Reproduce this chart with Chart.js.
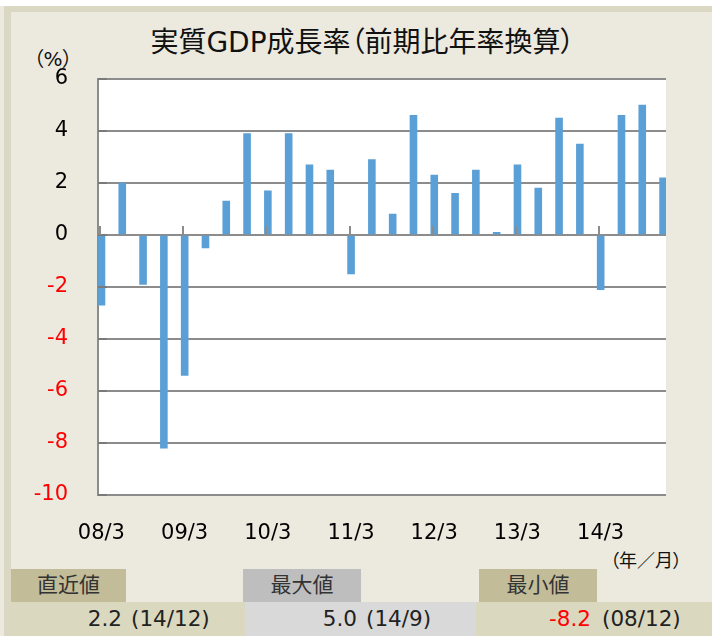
<!DOCTYPE html>
<html lang="ja">
<head>
<meta charset="utf-8">
<title>実質GDP成長率（前期比年率換算）</title>
<script src="https://cdn.jsdelivr.net/npm/chart.js@4.4.1/dist/chart.umd.min.js"></script>
<style>
  html, body { margin: 0; padding: 0; }
  body {
    width: 712px; height: 636px; position: relative; overflow: hidden;
    background: #ECE9DE;
    font-family: "DejaVu Sans", "Noto Sans CJK JP", sans-serif;
    font-feature-settings: "palt";
  }
  .abs { position: absolute; }
  #topWhite { left: 0; top: 0; width: 712px; height: 6px; background: #fff; }
  #topBand { left: 4px; top: 6px; width: 708px; height: 6px; background: #DAD7C3; }
  #leftBand { left: 4px; top: 6px; width: 7px; height: 630px; background: #DAD7C3; }
  #title { left: 0; width: 725px; top: 28px; line-height: 30px; text-align: center;
           font-size: 28px; color: #111; white-space: nowrap; }
  #unitY { left: 27px; top: 48px; width: 52px; text-align: center; font-size: 20px; line-height: 22px; color: #111; }
  #unitX { left: 604px; top: 550px; width: 84px; text-align: center; font-size: 18px; line-height: 22px; color: #111; }
  #clip { left: 0; top: 0; width: 666px; height: 560px; overflow: hidden; }
  #box { position: relative; width: 696px; height: 560px; }
  .head { top: 569px; height: 33px; line-height: 33px; text-align: center; font-size: 21px; color: #333; }
  .cell { top: 602px; height: 34px; }
  .num { top: 602px; line-height: 34px; font-size: 21.5px; color: #222; white-space: nowrap; }
  .khaki { background: #C2BC98; }
  .grey { background: #BEBEBE; }
  .khakiLight { background: #DBD8C0; }
  .greyLight { background: #D9D9D9; }
</style>
</head>
<body>
<div id="topWhite" class="abs"></div>
<div id="topBand" class="abs"></div>
<div id="leftBand" class="abs"></div>

<div id="title" class="abs">実質GDP成長率（前期比年率換算）</div>
<div id="unitY" class="abs">（%）</div>
<div id="unitX" class="abs">（年／月）</div>

<div id="clip" class="abs"><div id="box"><canvas id="gdp"></canvas></div></div>

<div class="abs head khaki" style="left:11px;width:115px;">直近値</div>
<div class="abs head grey" style="left:243px;width:118px;">最大値</div>
<div class="abs head khaki" style="left:479px;width:118px;">最小値</div>

<div class="abs cell khakiLight" style="left:11px;width:234px;"></div>
<div class="abs cell greyLight" style="left:245px;width:231px;"></div>
<div class="abs cell khakiLight" style="left:476px;width:236px;"></div>

<div id="latestVal" class="abs num" style="right:590px;"></div>
<div id="latestQ" class="abs num" style="left:131px;"></div>
<div id="maxVal" class="abs num" style="right:355px;"></div>
<div id="maxQ" class="abs num" style="left:366px;"></div>
<div id="minVal" class="abs num" style="right:121px;color:#FF0000;"></div>
<div id="minQ" class="abs num" style="left:602px;"></div>

<script>
// Quarter labels (year/month of quarter end), 2008 Q1 - 2014 Q4
const quarters = [
  '08/3', '08/6', '08/9', '08/12',
  '09/3', '09/6', '09/9', '09/12',
  '10/3', '10/6', '10/9', '10/12',
  '11/3', '11/6', '11/9', '11/12',
  '12/3', '12/6', '12/9', '12/12',
  '13/3', '13/6', '13/9', '13/12',
  '14/3', '14/6', '14/9', '14/12'
];

// Real GDP growth, q/q annualised (%)
const gdpGrowth = [
  -2.7, 2.0, -1.9, -8.2,
  -5.4, -0.5, 1.3, 3.9,
  1.7, 3.9, 2.7, 2.5,
  -1.5, 2.9, 0.8, 4.6,
  2.3, 1.6, 2.5, 0.1,
  2.7, 1.8, 4.5, 3.5,
  -2.1, 4.6, 5.0, 2.2
];

// Value axis ticks (%)
const yTicks = [6, 4, 2, 0, -2, -4, -6, -8, -10];

// Summary row: latest, maximum and minimum of the series
const fmt = v => v.toFixed(1);
const latestIdx = gdpGrowth.length - 1;
const maxIdx = gdpGrowth.indexOf(Math.max(...gdpGrowth));
const minIdx = gdpGrowth.indexOf(Math.min(...gdpGrowth));
document.getElementById('latestVal').textContent = fmt(gdpGrowth[latestIdx]);
document.getElementById('latestQ').textContent = '(' + quarters[latestIdx] + ')';
document.getElementById('maxVal').textContent = fmt(gdpGrowth[maxIdx]);
document.getElementById('maxQ').textContent = '(' + quarters[maxIdx] + ')';
document.getElementById('minVal').textContent = fmt(gdpGrowth[minIdx]);
document.getElementById('minQ').textContent = '(' + quarters[minIdx] + ')';

const AXIS_GREY = '#8C8C8C';
const TICK_GREY = '#7A7A7A';
const tickFont = { family: 'DejaVu Sans', size: 21 };

// White plot area plus the short tick marks: inside ticks on the value axis
// and year-boundary ticks sitting on the zero line
const plotDecor = {
  id: 'plotDecor',
  beforeDraw(chart) {
    const { ctx, chartArea: a } = chart;
    ctx.save();
    ctx.fillStyle = '#FFFFFF';
    ctx.fillRect(a.left, a.top, a.right - a.left, a.bottom - a.top);
    ctx.restore();
  },
  afterDatasetsDraw(chart) {
    const { ctx, chartArea: a, scales: { x, y } } = chart;
    const seg = (x1, y1, x2, y2) => { ctx.beginPath(); ctx.moveTo(x1, y1); ctx.lineTo(x2, y2); ctx.stroke(); };
    ctx.save();
    ctx.lineWidth = 2;
    ctx.strokeStyle = TICK_GREY;
    y.ticks.forEach(t => {
      const py = Math.round(y.getPixelForValue(t.value));
      seg(a.left, py, a.left + 9, py);
    });
    ctx.strokeStyle = AXIS_GREY;
    const y0 = Math.round(y.getPixelForValue(0));
    const halfSlot = (x.getPixelForValue(1) - x.getPixelForValue(0)) / 2;
    quarters.forEach((q, i) => {
      if (i % 4 === 0) {
        const px = Math.round(x.getPixelForValue(i) - halfSlot) + 2;
        seg(px, y0 - 9, px, y0);
      }
    });
    ctx.restore();
  }
};

// Bars sit in the first of three slots per quarter; the other two series are empty
const barSlot = { categoryPercentage: 1, barPercentage: 1, borderWidth: 0 };

new Chart(document.getElementById('gdp'), {
  type: 'bar',
  data: {
    labels: quarters,
    datasets: [
      { label: '実質GDP成長率', data: gdpGrowth, backgroundColor: '#5A9FD5', ...barSlot },
      { label: 'spare1', data: [], ...barSlot },
      { label: 'spare2', data: [], ...barSlot }
    ]
  },
  options: {
    responsive: true,
    maintainAspectRatio: false,
    animation: false,
    layout: { padding: { top: 79, right: 0, bottom: 0, left: 0 } },
    plugins: {
      legend: { display: false },
      tooltip: { enabled: false },
      title: { display: false }
    },
    scales: {
      x: {
        offset: true,
        grid: { display: false, drawTicks: false },
        border: { display: false },
        ticks: {
          autoSkip: false,
          maxRotation: 0,
          minRotation: 0,
          labelOffset: -7,
          padding: 26,
          color: '#000',
          font: tickFont,
          callback: (v, i) => (i % 4 === 0 ? quarters[i] : '')
        },
        afterFit: s => { s.height = 65; }
      },
      y: {
        min: Math.min(...yTicks),
        max: Math.max(...yTicks),
        afterBuildTicks: s => { s.ticks = yTicks.map(v => ({ value: v })); },
        grid: { color: AXIS_GREY, lineWidth: 2, drawTicks: false },
        border: { display: true, color: AXIS_GREY, width: 2 },
        ticks: {
          padding: 30,
          font: tickFont,
          color: c => (c.tick.value < 0 ? '#FF0000' : '#000000')
        },
        afterFit: s => { s.width = 98; }
      }
    }
  },
  plugins: [plotDecor]
});
</script>
</body>
</html>
